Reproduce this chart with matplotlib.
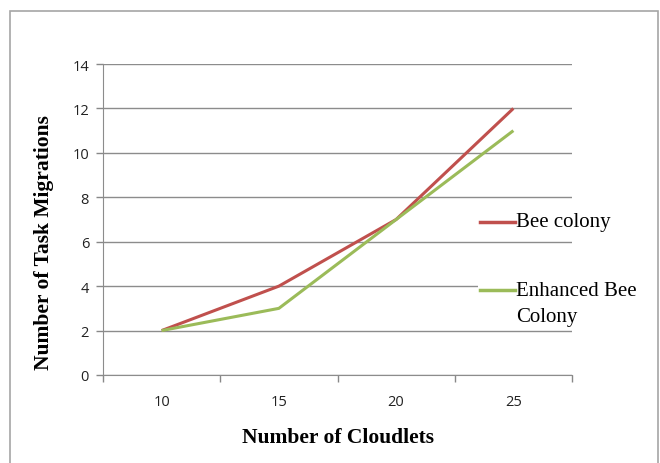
import matplotlib
matplotlib.use("Agg")
import matplotlib.pyplot as plt
from matplotlib.patches import Rectangle

categories = ["10", "15", "20", "25"]
bee_colony = [2, 4, 7, 12]
enhanced_bee = [2, 3, 7, 11]
y_ticks = [0, 2, 4, 6, 8, 10, 12, 14]

W, H = 660, 464
fig = plt.figure(figsize=(W / 100, H / 100), dpi=100)
fig.patch.set_facecolor("white")

# outer border (chart area)
fig.patches.append(Rectangle((10 / W, -0.1), (658 - 10) / W, 1.1 - 12 / H,
                             transform=fig.transFigure, fill=False,
                             edgecolor="#A6A6A6", linewidth=1.2))

ax = fig.add_axes([103 / W, 1 - 376 / H, (572 - 103) / W, (376 - 65) / H])
x = list(range(len(categories)))
ax.plot(x, bee_colony, color="#C0504D", linewidth=2.2, solid_capstyle="butt",
        label="Bee colony", zorder=3)
ax.plot(x, enhanced_bee, color="#9BBB59", linewidth=2.2, solid_capstyle="butt",
        label="Enhanced Bee\nColony", zorder=3)

ax.set_xlim(-0.5, len(categories) - 0.5)
ax.set_ylim(0, 14)
ax.set_yticks(y_ticks)
ax.set_yticklabels([str(v) for v in y_ticks], fontsize=10.5, family="Open Sans", color="#222222")
ax.set_xticks(x)
ax.set_xticklabels(categories, fontsize=10.5, family="Open Sans", color="#222222")
ax.set_xticks([i - 0.5 for i in range(len(categories) + 1)], minor=True)
ax.tick_params(axis="x", which="major", length=0, pad=14)
ax.tick_params(axis="x", which="minor", length=5, color="#888888", width=1)
ax.tick_params(axis="y", length=5, color="#888888", width=1, pad=5)

ax.grid(axis="y", color="#8C8C8C", linewidth=1)
ax.set_axisbelow(True)
for s in ["top", "right"]:
    ax.spines[s].set_visible(False)
ax.spines["left"].set_color("#8C8C8C")
ax.spines["bottom"].set_color("#8C8C8C")

fig.text(44 / W, 1 - 243 / H, "Number of Task Migrations", rotation=90,
         ha="center", va="center", fontsize=15.5, fontweight="bold",
         family="Liberation Serif")
fig.text(338 / W, 1 - 438 / H, "Number of Cloudlets", ha="center", va="center",
         fontsize=15.5, fontweight="bold", family="Liberation Serif")

# legend background patch hiding gridline behind second entry
fig.patches.append(Rectangle((478 / W, 1 - 300 / H), (574 - 478) / W, 18 / H,
                             transform=fig.transFigure, facecolor="white",
                             edgecolor="none", zorder=5))

# legend entries
for (yy, col, lab) in [(223, "#C0504D", "Bee colony"),
                       (291, "#9BBB59", "Enhanced Bee")]:
    fig.add_artist(plt.Line2D([480 / W, 515 / W], [1 - yy / H, 1 - yy / H],
                              color=col, linewidth=2.5, transform=fig.transFigure,
                              zorder=6))
    fig.text(516 / W, 1 - yy / H, lab, ha="left", va="center", fontsize=15,
             family="Liberation Serif", zorder=6)
fig.text(516 / W, 1 - 318 / H, "Colony", ha="left", va="center", fontsize=15,
         family="Liberation Serif", zorder=6)

fig.savefig("out.png", dpi=100, facecolor="white")
